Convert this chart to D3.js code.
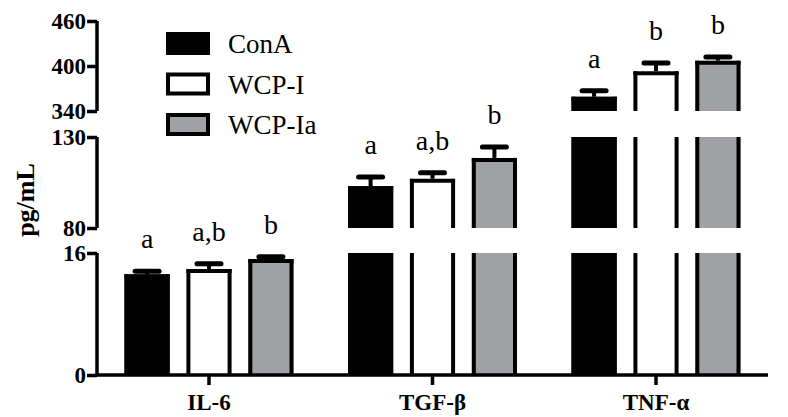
<!DOCTYPE html>
<html><head><meta charset="utf-8">
<script src="https://cdn.jsdelivr.net/npm/d3@7"></script>
<style>body{margin:0;background:#fff}</style></head>
<body><div id="chart"></div>
<script>
const categories = ['IL-6', 'TGF-β', 'TNF-α'];
const groups = ['ConA', 'WCP-I', 'WCP-Ia'];
const fills = ['#000', '#fff', '#a0a1a4'];
const means = [[13.2, 13.9, 15.2], [103, 107, 118.5], [359, 393, 407]];
const errors = [[0.4, 0.7, 0.3], [5, 3.3, 6], [8, 11, 5]];
const letters = [['a', 'a,b', 'b'], ['a', 'a,b', 'b'], ['a', 'b', 'b']];
// broken y-axis segments: value domain and pixel range
const segments = [
  {domain: [0, 16], range: [375, 253], ticks: [0, 16]},
  {domain: [80, 130], range: [228, 137], ticks: [80, 130]},
  {domain: [340, 460], range: [111, 21], ticks: [340, 400, 460]}
];

const svg = d3.select('#chart').append('svg').attr('width', 788).attr('height', 417);
const serif = 'Liberation Serif, Times New Roman, serif';

const xc = d => 209 + categories.indexOf(d) * 223.5;
const x1 = d3.scaleBand().domain(groups).range([-84.5, 84.5]).paddingInner(0.27).paddingOuter(0);

segments.forEach(s => {
  s.scale = d3.scaleLinear().domain(s.domain).range(s.range);
  const ax = svg.append('g').attr('transform', 'translate(97,0)')
    .call(d3.axisLeft(s.scale).tickValues(s.ticks).tickSize(10).tickPadding(1));
  ax.select('.domain').attr('stroke-width', 3.5).attr('d', `M0,${s.range[0]}V${s.range[1]}`);
  ax.selectAll('.tick line').attr('stroke-width', 3.5);
  ax.selectAll('text').attr('font-family', serif).attr('font-weight', 'bold')
    .attr('font-size', 23).attr('fill', '#000').attr('dy', '0.33em');
});

const topScale = v => {
  for (let i = segments.length - 1; i >= 0; i--) if (v >= segments[i].domain[0]) return segments[i].scale(v);
  return segments[0].scale(v);
};

categories.forEach((c, ci) => {
  groups.forEach((g, gi) => {
    const v = means[ci][gi], e = errors[ci][gi];
    const bx = xc(c) + x1(g), bw = x1.bandwidth();
    // error bar
    const yTop = topScale(v), yErr = topScale(v + e);
    svg.append('line').attr('x1', bx + bw / 2).attr('x2', bx + bw / 2).attr('y1', yTop).attr('y2', yErr)
      .attr('stroke', '#000').attr('stroke-width', 4);
    svg.append('line').attr('x1', bx + bw / 2 - 12).attr('x2', bx + bw / 2 + 12).attr('y1', yErr).attr('y2', yErr)
      .attr('stroke', '#000').attr('stroke-width', 5).attr('stroke-linecap', 'round');
    segments.forEach(s => {
      if (v <= s.domain[0]) return;
      const yb = s.range[0], yt = s.scale(Math.min(v, s.domain[1]));
      svg.append('rect').attr('x', bx).attr('y', yt).attr('width', bw).attr('height', yb - yt).attr('fill', fills[gi]);
      [bx + 2, bx + bw - 2].forEach(lx => svg.append('line').attr('x1', lx).attr('x2', lx)
        .attr('y1', yt).attr('y2', yb).attr('stroke', '#000').attr('stroke-width', 4));
      if (v <= s.domain[1]) svg.append('line').attr('x1', bx).attr('x2', bx + bw).attr('y1', yt + 2).attr('y2', yt + 2)
        .attr('stroke', '#000').attr('stroke-width', 4);
    });
    svg.append('text').attr('x', bx + bw / 2).attr('y', yErr - 23).attr('text-anchor', 'middle')
      .attr('font-family', serif).attr('font-size', 28).text(letters[ci][gi]);
  });
});

// x axis
svg.append('line').attr('x1', 95).attr('x2', 768).attr('y1', 375).attr('y2', 375).attr('stroke', '#000').attr('stroke-width', 3.5);
categories.forEach(c => {
  svg.append('line').attr('x1', xc(c)).attr('x2', xc(c)).attr('y1', 375).attr('y2', 385).attr('stroke', '#000').attr('stroke-width', 3.5);
  svg.append('text').attr('x', xc(c)).attr('y', 410).attr('text-anchor', 'middle').attr('font-family', serif)
    .attr('font-weight', 'bold').attr('font-size', 23).text(c);
});

svg.append('text').attr('transform', 'translate(34,200) rotate(-90)').attr('text-anchor', 'middle')
  .attr('font-family', serif).attr('font-weight', 'bold').attr('font-size', 26).text('pg/mL');

// legend
groups.forEach((g, i) => {
  const y = 32 + i * 40.5;
  svg.append('rect').attr('x', 168).attr('y', y + 2).attr('width', 40).attr('height', 19)
    .attr('fill', fills[i]).attr('stroke', '#000').attr('stroke-width', 4);
  svg.append('text').attr('x', 228).attr('y', y + 21).attr('font-family', serif).attr('font-size', 27).text(g);
});
</script></body></html>
